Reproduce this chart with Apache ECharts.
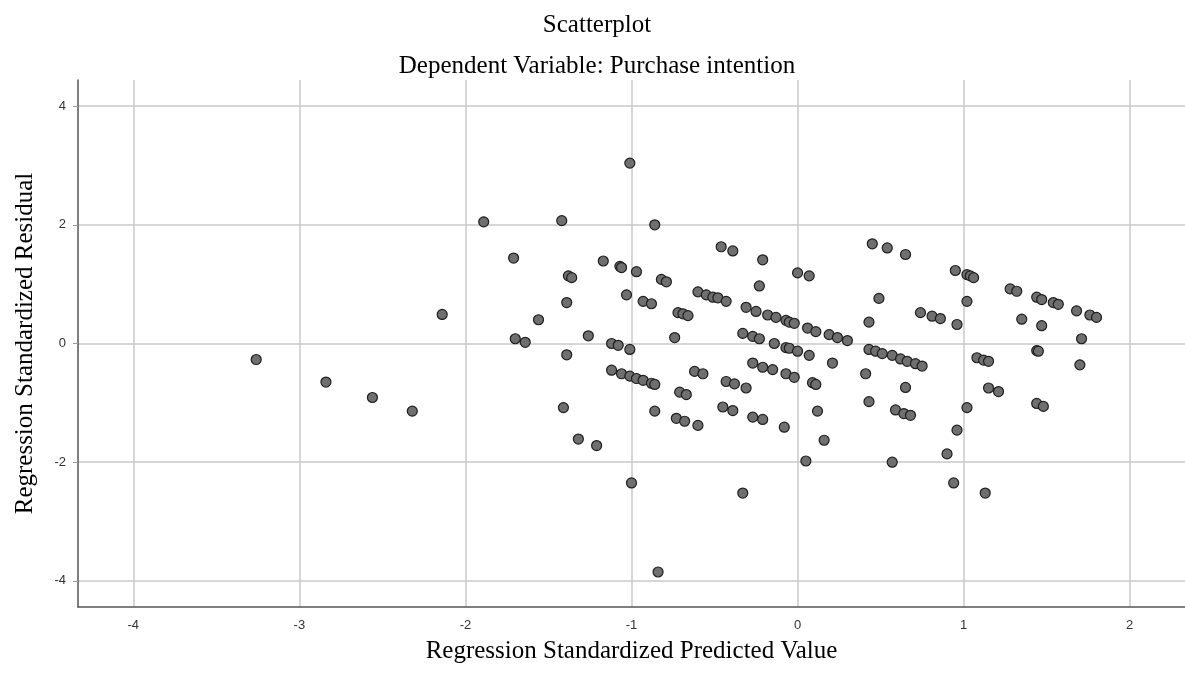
<!DOCTYPE html>
<html>
<head>
<meta charset="utf-8">
<script src="https://cdn.jsdelivr.net/npm/echarts@6/dist/echarts.min.js"></script>
<style>html,body{margin:0;padding:0;background:#fff;}#c{width:1185px;height:686px;}</style>
</head>
<body>
<div id="c"></div>
<script>
const titleText = 'Scatterplot';
const subtitleText = 'Dependent Variable: Purchase intention';
const xAxisTitle = 'Regression Standardized Predicted Value';
const yAxisTitle = 'Regression Standardized Residual';
const xTicks = [-4, -3, -2, -1, 0, 1, 2];
const yTicks = [-4, -2, 0, 2, 4];

const predicted = [
-3.26,-2.84,-2.56,-2.32,-2.14,-1.89,-1.71,-1.70,-1.64,-1.56,
-1.42,-1.38,-1.36,-1.39,-1.39,-1.41,-1.32,-1.21,-1.26,-1.17,
-1.07,-1.06,-1.03,-1.01,-0.97,-0.93,-0.88,-0.86,-0.82,-0.79,
-1.12,-1.08,-1.01,-1.12,-1.06,-1.01,-0.97,-0.93,-0.88,-0.86,
-1.00,-0.86,-0.74,-0.72,-0.69,-0.66,-0.71,-0.67,-0.73,-0.68,
-0.60,-0.62,-0.57,-0.60,-0.55,-0.51,-0.48,-0.43,-0.46,-0.39,
-0.43,-0.38,-0.31,-0.45,-0.39,-0.33,-0.27,-0.23,
-0.31,-0.25,-0.18,-0.13,-0.07,-0.05,-0.02,
-0.27,-0.21,-0.15,-0.07,-0.02,
-0.33,-0.27,-0.21,-0.21,-0.23,
-0.14,-0.07,-0.05,0.00,0.07,0.21,-0.08,0.00,0.07,
0.06,0.11,0.19,0.24,0.30,0.09,0.11,0.12,0.16,0.05,-0.84,
0.45,0.54,0.65,0.49,0.43,0.43,0.47,0.51,0.57,0.62,0.66,0.71,0.75,
0.41,0.65,0.43,0.59,0.64,0.68,0.57,0.74,0.81,0.86,0.96,0.96,0.90,0.94,
1.02,1.13,1.08,1.12,1.15,1.15,1.21,1.44,1.45,1.44,1.48,1.71,1.70,
0.95,1.02,1.04,1.06,1.02,1.28,1.32,1.35,1.44,1.47,1.47,1.54,1.57,1.68,1.76,1.80
];
const residual = [
-0.27,-0.65,-0.91,-1.14,0.49,2.05,1.44,0.08,0.02,0.40,
2.07,1.14,1.11,0.69,-0.19,-1.08,-1.61,-1.72,0.13,1.39,
1.30,1.28,0.82,3.04,1.21,0.71,0.67,2.00,1.08,1.04,
0.00,-0.03,-0.10,-0.45,-0.51,-0.55,-0.59,-0.62,-0.67,-0.69,
-2.35,-1.14,0.10,0.52,0.50,0.47,-0.82,-0.86,-1.26,-1.31,
-1.38,-0.47,-0.51,0.87,0.82,0.78,0.77,0.71,1.63,1.56,
-0.64,-0.68,-0.75,-1.07,-1.13,0.17,0.12,0.08,
0.61,0.54,0.48,0.44,0.39,0.36,0.34,
-0.33,-0.40,-0.44,-0.51,-0.57,
-2.52,-1.24,-1.28,1.41,0.97,
0.00,-0.07,-0.08,-0.13,-0.20,-0.33,-1.41,1.19,1.14,
0.26,0.20,0.15,0.10,0.05,-0.66,-0.69,-1.14,-1.63,-1.98,-3.85,
1.68,1.61,1.50,0.76,0.36,-0.10,-0.13,-0.17,-0.20,-0.26,-0.30,-0.34,-0.38,
-0.51,-0.74,-0.98,-1.12,-1.18,-1.21,-2.00,0.52,0.46,0.42,0.32,-1.46,-1.86,-2.35,
-1.08,-2.52,-0.24,-0.28,-0.30,-0.75,-0.81,-0.12,-0.13,-1.01,-1.06,0.08,-0.36,
1.23,1.16,1.14,1.11,0.71,0.92,0.88,0.41,0.78,0.74,0.30,0.69,0.66,0.55,0.48,0.44
];

const points = predicted.map((x, i) => [x, residual[i]]);
const serif = '"Liberation Serif", "Times New Roman", serif';
const sans = '"Liberation Sans", Arial, sans-serif';

const chart = echarts.init(document.getElementById('c'), null, {renderer: 'canvas'});
chart.setOption({
  backgroundColor: '#ffffff',
  animation: false,
  title: [
    {text: titleText, left: 592, top: 8, textAlign: 'center',
     textStyle: {fontFamily: serif, fontSize: 25, fontWeight: 'normal', color: '#000'}},
    {text: subtitleText, left: 592, top: 49, textAlign: 'center',
     textStyle: {fontFamily: serif, fontSize: 25, fontWeight: 'normal', color: '#000'}}
  ],
  grid: {left: 78, right: 0, top: 80, bottom: 79, containLabel: false},
  xAxis: {
    type: 'value', min: -4.333, max: 2.333,
    name: xAxisTitle, nameLocation: 'middle', nameGap: 32,
    nameTextStyle: {fontFamily: serif, fontSize: 25, color: '#000'},
    axisLine: {show: true, onZero: false, lineStyle: {color: '#555', width: 1.5}},
    axisTick: {show: false, customValues: xTicks},
    axisLabel: {customValues: xTicks, fontFamily: sans, fontSize: 13, color: '#333', margin: 12},
    splitLine: {show: true, lineStyle: {color: '#c8c8c8', width: 1.5}}
  },
  yAxis: {
    type: 'value', min: -4.44, max: 4.44,
    name: yAxisTitle, nameLocation: 'middle', nameGap: 40,
    nameTextStyle: {fontFamily: serif, fontSize: 25, color: '#000'},
    axisLine: {show: true, onZero: false, lineStyle: {color: '#555', width: 1.5}},
    axisTick: {show: true, length: 5, customValues: yTicks, lineStyle: {color: '#999'}},
    axisLabel: {customValues: yTicks, fontFamily: sans, fontSize: 13, color: '#333', margin: 12},
    splitLine: {show: true, lineStyle: {color: '#c8c8c8', width: 1.5}}
  },
  series: [{
    type: 'scatter',
    data: points,
    symbol: 'circle',
    symbolSize: 10,
    itemStyle: {color: '#6f6f6f', borderColor: '#1e1e1e', borderWidth: 1.2, opacity: 1}
  }]
});
</script>
</body>
</html>
